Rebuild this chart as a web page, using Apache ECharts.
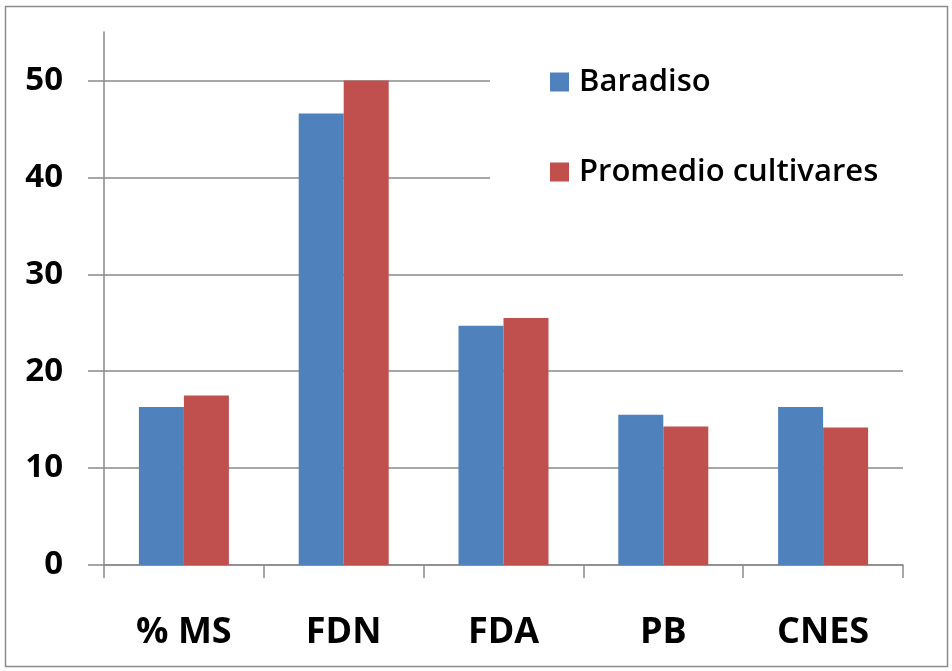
<!DOCTYPE html>
<html>
<head>
<meta charset="utf-8">
<script src="https://cdn.jsdelivr.net/npm/echarts@6/dist/echarts.min.js"></script>
<style>
  html, body { margin: 0; padding: 0; background: #fff; }
  #chart { width: 952px; height: 671px; }
</style>
</head>
<body>
<div id="chart"></div>
<script>
var categories = ['% MS', 'FDN', 'FDA', 'PB', 'CNES'];
var baradiso = [16.3, 46.6, 24.7, 15.5, 16.3];
var promedio = [17.5, 50.0, 25.5, 14.3, 14.2];
var seriesNames = ['Baradiso', 'Promedio cultivares'];

var myChart = echarts.init(document.getElementById('chart'));
var font = '"Open Sans", "Noto Sans", sans-serif';
var axisGray = '#8a8a8a';

var option = {
    animation: false,
    backgroundColor: '#fff',
    color: ['#4f81bd', '#c0504d'],
    graphic: [{
        type: 'rect',
        shape: { x: 5.5, y: 6.5, width: 942, height: 660 },
        style: { fill: 'none', stroke: '#8c8c8c', lineWidth: 1.5 },
        silent: true
    }],
    grid: { left: 104, right: 49, top: 32, bottom: 106 },
    // white legend box hides the upper gridlines, as in the original
    legend: {
        orient: 'vertical',
        left: 490,
        top: 36,
        padding: [30, 30, 30, 60],
        backgroundColor: '#fff',
        itemWidth: 19,
        itemHeight: 19,
        itemGap: 58,
        icon: 'rect',
        textStyle: {
            fontFamily: font, fontSize: 31, fontWeight: 600,
            color: '#000', lineHeight: 32, padding: [0, 0, 0, 5]
        },
        data: seriesNames
    },
    xAxis: {
        type: 'category',
        data: categories,
        boundaryGap: true,
        axisLine: { lineStyle: { color: axisGray, width: 1.5 } },
        axisTick: { show: true, length: 13, lineStyle: { color: axisGray, width: 1.5 } },
        axisLabel: {
            margin: 50, fontFamily: font, fontSize: 36, fontWeight: 'bold', color: '#000'
        }
    },
    yAxis: {
        type: 'value',
        min: 0,
        max: 55,
        interval: 10,
        axisLine: { show: true, lineStyle: { color: axisGray, width: 1.5 } },
        axisTick: { show: true, length: 16, lineStyle: { color: axisGray, width: 1.5 } },
        axisLabel: {
            margin: 41, showMaxLabel: false,
            fontFamily: font, fontSize: 33, fontWeight: 'bold', color: '#000'
        },
        splitLine: { show: true, showMaxLine: false, lineStyle: { color: axisGray, width: 1.5 } }
    },
    series: [{
        name: seriesNames[0],
        type: 'bar',
        data: baradiso,
        barWidth: 45,
        barGap: '0%'
    }, {
        name: seriesNames[1],
        type: 'bar',
        data: promedio,
        barWidth: 45,
        barGap: '0%'
    }]
};

option && myChart.setOption(option);
</script>
</body>
</html>
